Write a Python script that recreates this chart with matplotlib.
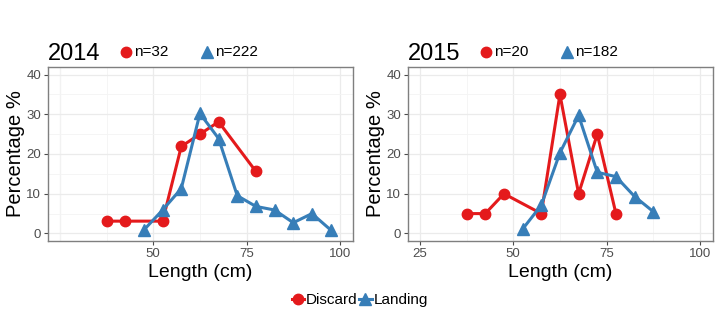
import matplotlib.pyplot as plt
from matplotlib.lines import Line2D
from matplotlib.ticker import MultipleLocator

plt.rcParams['font.family'] = ['Liberation Sans', 'DejaVu Sans']

RED = "#E41A1C"
BLUE = "#377EB8"

# length class mid-points (cm) and percentage per class
disc14_len = [37.5, 42.5, 52.5, 57.5, 62.5, 67.5, 77.5]
disc14_pct = [3.1, 3.1, 3.1, 21.9, 25.0, 28.1, 15.6]
land14_len = [47.5, 52.5, 57.5, 62.5, 67.5, 72.5, 77.5, 82.5, 87.5, 92.5, 97.5]
land14_pct = [0.9, 5.9, 11.3, 30.2, 23.9, 9.5, 6.8, 5.9, 2.7, 5.0, 0.9]

disc15_len = [37.5, 42.5, 47.5, 57.5, 62.5, 67.5, 72.5, 77.5]
disc15_pct = [5.0, 5.0, 10.0, 5.0, 35.0, 10.0, 25.0, 5.0]
land15_len = [52.5, 57.5, 62.5, 67.5, 72.5, 77.5, 82.5, 87.5]
land15_pct = [1.1, 7.1, 20.3, 29.7, 15.4, 14.3, 9.3, 5.5]

years = ["2014", "2015"]
n_discard = [32, 20]
n_landing = [222, 182]
xticks = [[50, 75, 100], [25, 50, 75, 100]]

panels = [
    (disc14_len, disc14_pct, land14_len, land14_pct),
    (disc15_len, disc15_pct, land15_len, land15_pct),
]

W, H = 720, 332
fig = plt.figure(figsize=(W / 100, H / 100), dpi=100)

lefts = [48, 408]
for i, (dl, dp, ll, lp) in enumerate(panels):
    x0 = lefts[i]
    ax = fig.add_axes([x0 / W, (H - 241) / H, 305 / W, 174 / H])
    ax.plot(dl, dp, color=RED, lw=2.2, marker="o", ms=7.5, zorder=3)
    ax.plot(ll, lp, color=BLUE, lw=2.2, marker="^", ms=9, zorder=4)
    ax.set_xlim(21.8, 103.5)
    ax.set_ylim(-1.9, 41.9)
    ax.set_xticks(xticks[i])
    ax.set_yticks([0, 10, 20, 30, 40])
    ax.xaxis.set_minor_locator(MultipleLocator(12.5))
    ax.yaxis.set_minor_locator(MultipleLocator(5))
    ax.grid(which="major", color="#EBEBEB", lw=0.9)
    ax.grid(which="minor", color="#F4F4F4", lw=0.6)
    # keep gridline at 25 in the first panel even without a label
    if i == 0:
        ax.axvline(25, color="#EBEBEB", lw=0.9, zorder=0)
    ax.set_axisbelow(True)
    for s in ax.spines.values():
        s.set_color("#7F7F7F")
        s.set_linewidth(1.0)
    ax.tick_params(which="major", colors="#4D4D4D", labelsize=9.5, length=3, width=0.8, pad=2)
    ax.tick_params(which="minor", length=0)
    ax.set_xlabel("Length (cm)", fontsize=14, labelpad=3)
    ax.set_ylabel("Percentage %", fontsize=14.5, labelpad=1)

    # year title with sample sizes
    yc = 1 - 51.5 / H
    fig.text(x0 / W, 1 - 60 / H, years[i], fontsize=17, ha="left", va="baseline")
    fig.add_artist(Line2D([(x0 + 78) / W], [yc], marker="o", ms=7.5, color=RED,
                          transform=fig.transFigure))
    fig.text((x0 + 86) / W, yc, f"n={n_discard[i]}", fontsize=11, ha="left", va="center")
    fig.add_artist(Line2D([(x0 + 159) / W], [yc], marker="^", ms=8.5, color=BLUE,
                          transform=fig.transFigure))
    fig.text((x0 + 167) / W, yc, f"n={n_landing[i]}", fontsize=11, ha="left", va="center")

handles = [
    Line2D([], [], color=RED, lw=2.2, marker="o", ms=7.5),
    Line2D([], [], color=BLUE, lw=2.2, marker="^", ms=9),
]
fig.legend(handles, ["Discard", "Landing"], ncol=2, frameon=False, fontsize=11,
           loc="center", bbox_to_anchor=(360 / W, 1 - 300 / H),
           handlelength=0.8, handletextpad=0.15, columnspacing=0.1)

fig.savefig("out.png", dpi=100)
